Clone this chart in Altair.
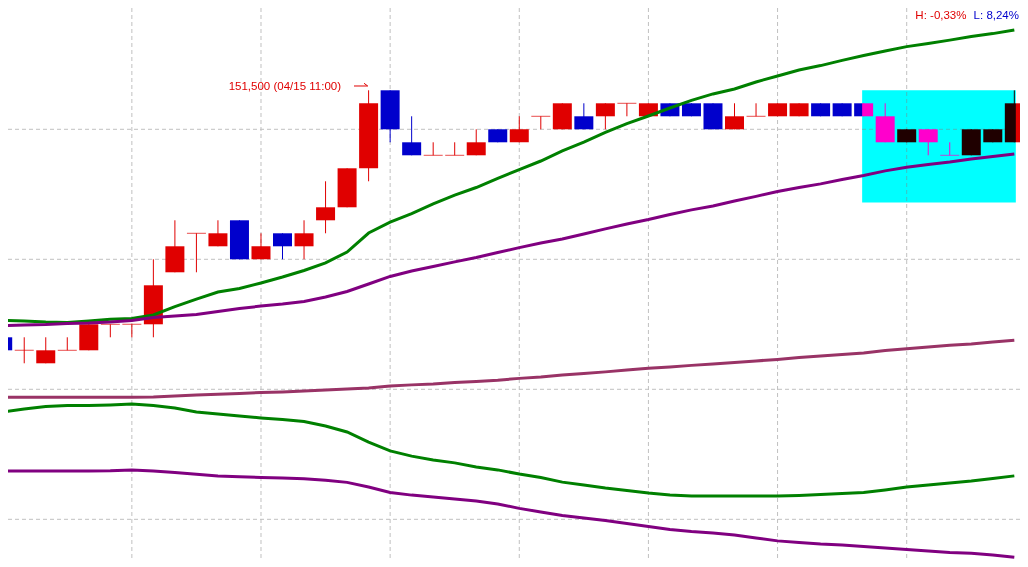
import altair as alt
import pandas as pd

# ---- candle data (price, KRW) ----
opens = [142000, 141500, 141000, 141500, 141500, 142500, 142500, 142500, 144500, 146000,
         145500, 146500, 145000, 146000, 145500, 146500, 147000, 148500, 151500, 149500,
         149000, 149000, 149000, 150000, 149500, 150500, 150000, 150500, 150500, 151000,
         150500, 151000, 151000, 151000, 150000, 150500, 150500, 150500, 151000, 151000,
         151000, 150500, 149500, 150000, 149000, 149000, 149500, 149500]
closes = [141500, 141500, 141500, 141500, 142500, 142500, 142500, 144000, 145500, 146000,
          146000, 145000, 145500, 145500, 146000, 147000, 148500, 151000, 150000, 149000,
          149000, 149000, 149500, 149500, 150000, 150500, 151000, 150000, 151000, 151000,
          151000, 150500, 150500, 150000, 150500, 150500, 151000, 151000, 150500, 150500,
          150500, 149500, 150000, 149500, 149000, 150000, 150000, 151000]
highs = [142000, 142000, 142000, 142000, 142500, 142500, 142500, 145000, 146500, 146000,
         146500, 146500, 146000, 146000, 146500, 148000, 148500, 151500, 151500, 150500,
         149500, 149500, 150000, 150000, 150500, 150500, 151000, 151000, 151000, 151000,
         151000, 151000, 151000, 151000, 151000, 151000, 151000, 151000, 151000, 151000,
         151000, 151000, 150000, 150000, 149500, 150000, 150000, 151500]
lows = [141500, 141000, 141000, 141500, 141500, 142000, 142000, 142000, 144500, 144500,
        145500, 145000, 145000, 145000, 145000, 146000, 147000, 148000, 149500, 149000,
        149000, 149000, 149000, 149500, 149500, 150000, 150000, 150000, 150000, 150500,
        150500, 150500, 150500, 150000, 150000, 150500, 150500, 150500, 150500, 150500,
        150500, 149500, 149500, 149000, 149000, 149000, 149500, 149500]

# ---- indicator lines ----
upper_green = [142650, 142630, 142590, 142570, 142630, 142690, 142720, 142860, 143180, 143470,
               143740, 143880, 144090, 144320, 144570, 144860, 145280, 146010, 146430, 146760,
               147130, 147470, 147760, 148110, 148450, 148780, 149170, 149510, 149880, 150220,
               150510, 150820, 151110, 151360, 151550, 151820, 152050, 152280, 152450, 152650,
               152840, 153010, 153180, 153300, 153430, 153570, 153680, 153820]
upper_purple = [142450, 142470, 142490, 142530, 142550, 142590, 142650, 142760, 142820, 142880,
                142990, 143110, 143200, 143280, 143380, 143550, 143760, 144050, 144340, 144550,
                144720, 144900, 145070, 145260, 145450, 145630, 145780, 145970, 146170, 146360,
                146530, 146720, 146900, 147050, 147240, 147420, 147610, 147760, 147900, 148070,
                148220, 148400, 148540, 148650, 148740, 148860, 148950, 149050]
middle = [139690, 139690, 139690, 139690, 139690, 139690, 139690, 139700, 139740, 139780,
          139810, 139840, 139880, 139900, 139930, 139970, 140010, 140050, 140130, 140170,
          140200, 140260, 140300, 140350, 140420, 140470, 140550, 140610, 140670, 140740,
          140810, 140860, 140920, 140970, 141030, 141090, 141150, 141220, 141280, 141340,
          141400, 141490, 141560, 141630, 141690, 141740, 141820, 141890]
lower_green = [139130, 139240, 139340, 139380, 139380, 139400, 139430, 139380, 139280, 139130,
               139050, 138970, 138900, 138840, 138760, 138590, 138360, 137970, 137630, 137430,
               137280, 137170, 137010, 136900, 136740, 136610, 136430, 136320, 136200, 136110,
               136010, 135930, 135900, 135900, 135900, 135900, 135900, 135920, 135950, 135990,
               136030, 136130, 136240, 136320, 136400, 136470, 136570, 136670]
lower_purple = [136860, 136860, 136860, 136860, 136860, 136870, 136900, 136860, 136800, 136730,
                136670, 136640, 136610, 136590, 136560, 136500, 136420, 136240, 136030, 135930,
                135860, 135780, 135700, 135590, 135420, 135280, 135150, 135050, 134950, 134840,
                134720, 134610, 134530, 134470, 134400, 134280, 134170, 134110, 134050, 134010,
                133950, 133900, 133840, 133780, 133720, 133690, 133630, 133540]

grid_x = [0, 6, 12, 18, 24, 30, 36, 42]
grid_y = [135000, 140000, 145000, 150000]

sel_x = [39.93, 47.07]
sel_y = [147180, 151500]

high_time = "04/15 11:00"
hl_high = "H: -0,33%"
hl_low = "L: 8,24%"

UP, DOWN = "#e00000", "#0000cc"
FONT = "Liberation Sans, Arial, sans-serif"
FS = 11.5

n = len(opens)
df = pd.DataFrame({"i": list(range(n)), "open": opens, "close": closes,
                   "high": highs, "low": lows})
prev = df["close"].shift(1).fillna(df["open"])
df["col"] = [
    UP if c > o else (DOWN if c < o else (DOWN if c < p else UP))
    for o, c, p in zip(df["open"], df["close"], prev)
]

xs = alt.Scale(domain=[0.246, 47.264], nice=False, zero=False, padding=0)
ys = alt.Scale(domain=[133473, 154665], nice=False, zero=False, padding=0)
COL = alt.Color("col:N", scale=None, legend=None)

grid_v = alt.Chart(pd.DataFrame({"gx": grid_x})).mark_rule(
    color="#c0c0c0", strokeWidth=1, strokeDash=[4, 3], clip=True
).encode(x=alt.X("gx:Q", scale=xs, axis=None))
grid_h = alt.Chart(pd.DataFrame({"gy": grid_y})).mark_rule(
    color="#c0c0c0", strokeWidth=1, strokeDash=[4, 3], clip=True
).encode(y=alt.Y("gy:Q", scale=ys, axis=None))

base = alt.Chart(df)
wicks = base.mark_rule(strokeWidth=1, clip=True).encode(
    x=alt.X("i:Q", scale=xs, axis=None),
    y=alt.Y("low:Q", scale=ys, axis=None), y2="high:Q", color=COL)
bodies = base.transform_filter("datum.open != datum.close").mark_bar(
    size=19, clip=True).encode(
    x=alt.X("i:Q", scale=xs, axis=None),
    y=alt.Y("open:Q", scale=ys, axis=None), y2="close:Q", color=COL)
dojis = base.transform_filter("datum.open == datum.close").mark_tick(
    orient="horizontal", size=19, thickness=1, clip=True).encode(
    x=alt.X("i:Q", scale=xs, axis=None),
    y=alt.Y("open:Q", scale=ys, axis=None), color=COL)

series_names = ["mid", "lowg", "lowp", "upg", "upp"]
series_vals = [middle, lower_green, lower_purple, upper_green, upper_purple]
series_cols = ["#993366", "#008000", "#800080", "#008000", "#800080"]
rows = []
for name, vals, colr in zip(series_names, series_vals, series_cols):
    for k, v in enumerate(vals):
        rows.append({"i": k, "v": v, "s": name, "col": colr})
ldf = pd.DataFrame(rows)
lines = alt.Chart(ldf).mark_line(strokeWidth=3, clip=True).encode(
    x=alt.X("i:Q", scale=xs, axis=None),
    y=alt.Y("v:Q", scale=ys, axis=None),
    color=COL, detail="s:N", order="i:Q")

top = df.loc[[df["high"].idxmax()]].copy()
top["label"] = top["high"].map(lambda v: f"{v:,}") + f" ({high_time})"
ann_text = alt.Chart(top).mark_text(
    align="right", baseline="alphabetic", dx=-27.6, font=FONT, fontSize=FS,
    color=UP).encode(
    x=alt.X("i:Q", scale=xs, axis=None), y=alt.Y("high:Q", scale=ys, axis=None),
    text="label:N")
arrow = alt.Chart(top).mark_rule(
    color=UP, strokeWidth=1, xOffset=-14.6, x2Offset=-0.9, yOffset=-4.3, y2Offset=-4.3
).encode(x=alt.X("i:Q", scale=xs, axis=None), x2="i:Q",
         y=alt.Y("high:Q", scale=ys, axis=None), y2="high:Q")
barb = alt.Chart(top).mark_rule(
    color=UP, strokeWidth=1, xOffset=-4.6, x2Offset=-0.9, yOffset=-7, y2Offset=-4.3
).encode(x=alt.X("i:Q", scale=xs, axis=None), x2="i:Q",
         y=alt.Y("high:Q", scale=ys, axis=None), y2="high:Q")

hl1 = alt.Chart(pd.DataFrame({"t": [hl_high]})).mark_text(
    align="right", baseline="alphabetic", font=FONT, fontSize=FS, color=UP
).encode(x=alt.value(958.5), y=alt.value(11.3), text="t:N")
hl2 = alt.Chart(pd.DataFrame({"t": [hl_low]})).mark_text(
    align="right", baseline="alphabetic", font=FONT, fontSize=FS, color=DOWN
).encode(x=alt.value(1011), y=alt.value(11.3), text="t:N")

sel = alt.Chart(pd.DataFrame({"x0": [sel_x[0]], "x1": [sel_x[1]],
                              "y0": [sel_y[0]], "y1": [sel_y[1]]})).mark_rect(
    color="#ff0000", blend="difference").encode(
    x=alt.X("x0:Q", scale=xs, axis=None), x2="x1:Q",
    y=alt.Y("y0:Q", scale=ys, axis=None), y2="y1:Q")

chart = alt.layer(
    grid_v, grid_h, wicks, bodies, dojis, lines, ann_text, arrow, barb, hl1, hl2, sel
).properties(
    width=1012, height=551, padding=0, background="white",
    autosize=alt.AutoSizeParams(type="none")
).configure_view(strokeWidth=0)

chart.save("out.html", embed_options={"renderer": "svg", "actions": False})
